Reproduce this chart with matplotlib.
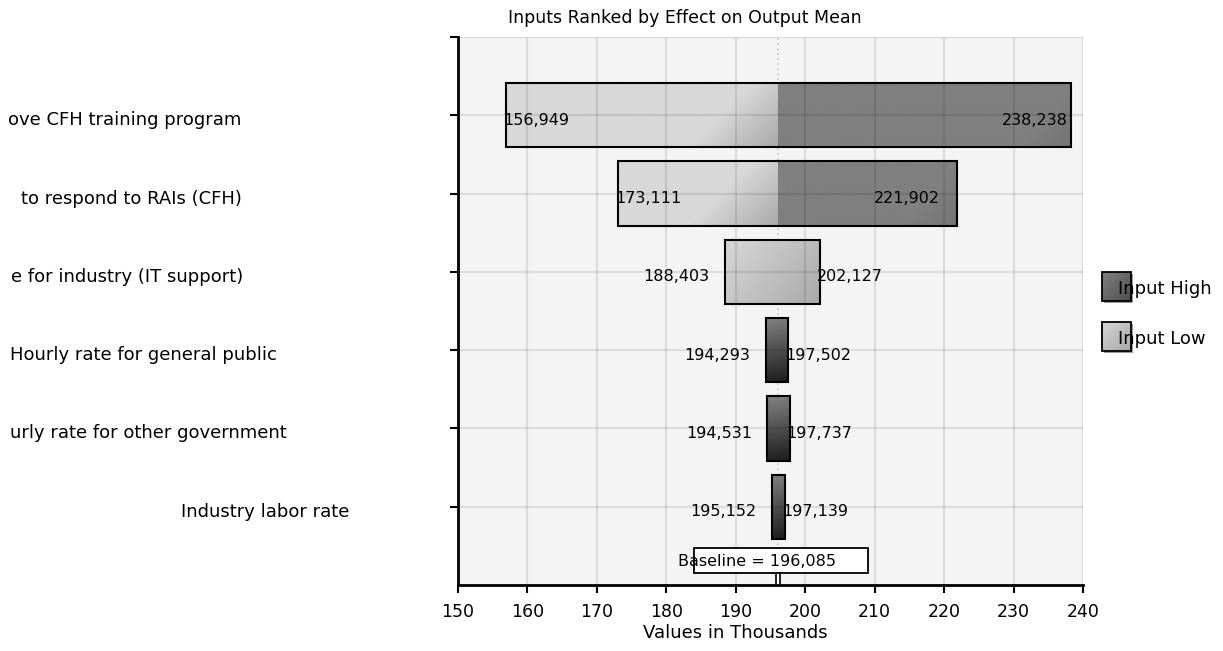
import numpy as np
import matplotlib
matplotlib.use("Agg")
import matplotlib.pyplot as plt
from matplotlib.patches import Rectangle
from matplotlib.colors import to_rgb
import matplotlib.transforms as mtransforms

# ---- data -------------------------------------------------------------
title = "Inputs Ranked by Effect on Output Mean"
x_label = "Values in Thousands"
inputs = [
    "ove CFH training program",
    "to respond to RAIs (CFH)",
    "e for industry (IT support)",
    "Hourly rate for general public",
    "urly rate for other government",
    "Industry labor rate",
]
low_values = [156949, 173111, 188403, 194293, 194531, 195152]
high_values = [238238, 221902, 202127, 197502, 197737, 197139]
baseline = 196085
x_ticks = [150, 160, 170, 180, 190, 200, 210, 220, 230, 240]
legend_labels = ["Input High", "Input Low"]

# ---- styling ----------------------------------------------------------
W_PX, H_PX, DPI = 1223, 651, 100
FONT = "DejaVu Sans"
plt.rcParams["font.family"] = FONT

fill_kind = ["split", "split", "low", "high", "high", "high"]
label_end_px = [241, 242, 243, 277, 287, 349]
low_label_place = [("left", -3), ("left", -3), ("right", -15), ("right", -15), ("right", -15), ("right", -15)]
high_label_place = [("right", -3), ("right", -17), ("left", -3), ("left", -3), ("left", -3), ("left", -3)]

LIGHT = ("#d8d8d8", "#a9a9a9")
DARK_FLAT = ("#808080", "#747474")
DARK = ("#7e7e7e", "#1c1c1c")

fig = plt.figure(figsize=(W_PX / DPI, H_PX / DPI), dpi=DPI)
ax_l, ax_r, ax_t, ax_b = 458, 1083, 37, 585
ax = fig.add_axes([ax_l / W_PX, 1 - ax_b / H_PX, (ax_r - ax_l) / W_PX, (ax_b - ax_t) / H_PX])
ax.set_facecolor("#f4f4f4")

n = len(inputs)
ax.set_xlim(x_ticks[0], x_ticks[-1])
ax.set_ylim(n + 1, 0)

sx = (ax_r - ax_l) / (x_ticks[-1] - x_ticks[0])   # pixels per thousand
sy = (ax_b - ax_t) / (n + 1)                       # pixels per row

bar_h = 0.82


def gradient_rect(x0, x1, yc, h, colors, span, angle_deg):
    """Fill [x0,x1] x [yc-h/2, yc+h/2] with a linear gradient that darkens
    towards the lower-right corner."""
    wpx = max((x1 - x0) * sx, 1.0)
    hpx = h * sy
    nx, ny = int(np.ceil(wpx)) + 1, int(np.ceil(hpx)) + 1
    px = np.linspace(0, wpx, nx)[None, :]
    py = np.linspace(0, hpx, ny)[:, None]
    a = np.deg2rad(angle_deg)
    d = (wpx - px) * np.cos(a) + (hpx - py) * np.sin(a)
    t = np.clip(d / span, 0, 1)[..., None]
    c_far = np.array(to_rgb(colors[0]))
    c_near = np.array(to_rgb(colors[1]))
    img = c_near + (c_far - c_near) * t
    ax.imshow(img, extent=(x0, x1, yc + h / 2, yc - h / 2), origin="upper",
              aspect="auto", interpolation="bilinear", zorder=1)


# baseline reference line
base_k = baseline / 1000
ax.axvline(base_k, color="#c4c4c4", lw=1.2, ls=(0, (1, 2)), zorder=0.5)

for i in range(n):
    yc = i + 1
    lo = low_values[i] / 1000
    hi = high_values[i] / 1000
    kind = fill_kind[i]
    if kind == "split":
        gradient_rect(lo, base_k, yc, bar_h, LIGHT, 62, 45)
        gradient_rect(base_k, hi, yc, bar_h, DARK_FLAT, 40, 45)
    elif kind == "low":
        gradient_rect(lo, hi, yc, bar_h, LIGHT, 115, 40)
    else:
        gradient_rect(lo, hi, yc, bar_h, DARK, 64, 80)
    ax.add_patch(Rectangle((lo, yc - bar_h / 2), hi - lo, bar_h, fill=False,
                           edgecolor="black", lw=1.5, zorder=4))

    ha, off = low_label_place[i]
    ax.annotate(f"{low_values[i]:,}", (lo, yc), xytext=(off, -5), textcoords="offset pixels",
                ha=ha, va="center", fontsize=11.5, color="black", zorder=6)
    ha, off = high_label_place[i]
    ax.annotate(f"{high_values[i]:,}", (hi, yc), xytext=(off, -5), textcoords="offset pixels",
                ha=ha, va="center", fontsize=11.5, color="black", zorder=6)

# category labels at the left of the plot
lab_tr = mtransforms.blended_transform_factory(fig.transFigure, ax.transData)
for i, name in enumerate(inputs):
    ax.annotate(name, (label_end_px[i] / W_PX, i + 1), xycoords=lab_tr,
                xytext=(0, -5), textcoords="offset pixels",
                ha="right", va="center", fontsize=13, annotation_clip=False)

# baseline marker and box
box_w = 174 / sx
box_top, box_bot = (548 - ax_t) / sy, (573 - ax_t) / sy
ax.add_patch(Rectangle((base_k - box_w / 2 + 0.4, box_top), box_w, box_bot - box_top,
                       facecolor="white", edgecolor="black", lw=1.3, zorder=5))
mk_w = 4.5 / sx
ax.add_patch(Rectangle((base_k - mk_w / 2, box_bot), mk_w, n + 1 - box_bot,
                       facecolor="white", edgecolor="black", lw=1.2, zorder=5, clip_on=False))
ax.annotate(f"Baseline = {baseline:,}", (base_k, (box_top + box_bot) / 2),
            xytext=(678 - (ax_l + (base_k - x_ticks[0]) * sx), -1), textcoords="offset pixels",
            ha="left", va="center", fontsize=11.5, zorder=7)

# axes cosmetics
ax.set_xticks(x_ticks)
ax.set_xticklabels([str(v) for v in x_ticks], fontsize=12.5)
ax.set_yticks(range(0, n + 1))
ax.set_yticklabels([])
ax.tick_params(axis="both", direction="out", length=6, width=1.5, color="black")
ax.tick_params(axis="x", pad=7)
ax.set_axisbelow(False)
ax.grid(True, color="black", alpha=0.09, lw=1.6)
for s in ("top", "right"):
    ax.spines[s].set_visible(False)
for s in ("left", "bottom"):
    ax.spines[s].set_linewidth(2)

# title and axis caption
fig.text(685 / W_PX, 1 - 18 / H_PX, title, ha="center", va="center", fontsize=12.5)
fig.text(735 / W_PX, 1 - 633 / H_PX, x_label, ha="center", va="center", fontsize=13)

# legend
lax = fig.add_axes([0, 0, 1, 1], facecolor="none")
lax.set_xlim(0, W_PX)
lax.set_ylim(H_PX, 0)
lax.axis("off")
swatches = [("#4e4e4e", "#808080"), ("#a8a8a8", "#d6d6d6")]
for k, lab in enumerate(legend_labels):
    y0 = 272 + k * 50
    x0 = 1102
    lax.add_patch(Rectangle((x0 + 2, y0 + 2), 29, 29, facecolor="#9a9a9a", edgecolor="none", zorder=1))
    g = np.linspace(0, 1, 30)
    grad = (g[None, :] + g[:, None]) / 2
    c0 = np.array(to_rgb(swatches[k][0]))
    c1 = np.array(to_rgb(swatches[k][1]))
    img = c1 + (c0 - c1) * grad[..., None]
    lax.imshow(img, extent=(x0, x0 + 29, y0 + 29, y0), origin="upper", aspect="auto", zorder=2)
    lax.add_patch(Rectangle((x0, y0), 29, 29, fill=False, edgecolor="black", lw=1.3, zorder=3))
    lax.text(1118, y0 + 17, lab, ha="left", va="center", fontsize=13, zorder=4)
lax.set_xlim(0, W_PX)
lax.set_ylim(H_PX, 0)

fig.savefig("out.png", dpi=DPI)
